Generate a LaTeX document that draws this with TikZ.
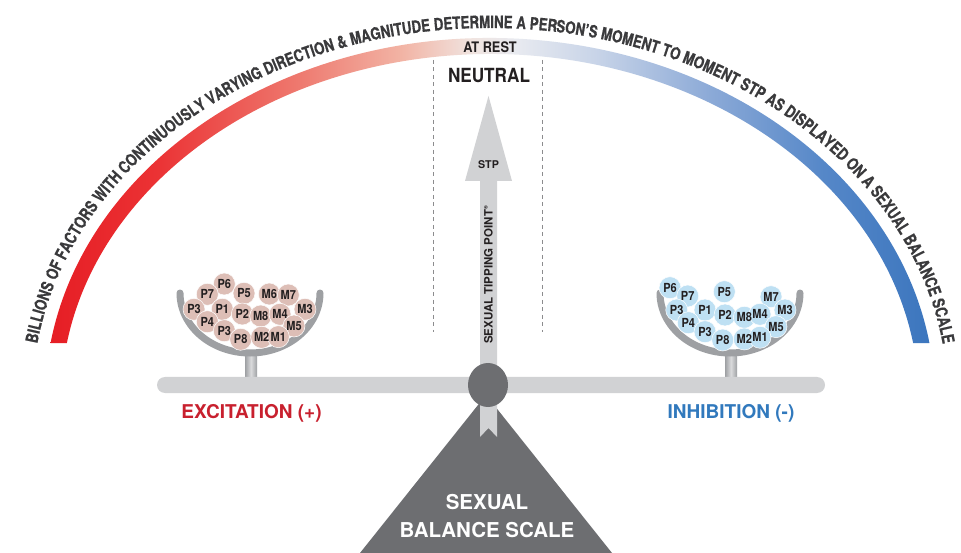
\documentclass[tikz,border=0pt]{standalone}
\usepackage{fontspec}
\usetikzlibrary{decorations.text}
\newfontfamily\hfam{TeX Gyre Heros}
\newfontfamily\hnar{TeX Gyre Heros}[FakeStretch=0.88]
\newfontfamily\hcnd{TeX Gyre Heros}[FakeStretch=0.78,FakeBold=0.6]
\definecolor{arcA}{RGB}{230,30,37}
\definecolor{arcB}{RGB}{235,50,52}
\definecolor{arcC}{RGB}{238,120,110}
\definecolor{arcD}{RGB}{242,180,165}
\definecolor{arcE}{RGB}{240,228,224}
\definecolor{arcF}{RGB}{232,234,240}
\definecolor{arcG}{RGB}{200,212,232}
\definecolor{arcH}{RGB}{140,170,215}
\definecolor{arcI}{RGB}{85,135,200}
\definecolor{arcJ}{RGB}{60,118,190}
\definecolor{arctxt}{RGB}{58,58,60}
\definecolor{bargray}{RGB}{209,210,212}
\definecolor{darkgray}{RGB}{109,110,113}
\definecolor{bowlgray}{RGB}{158,160,163}
\definecolor{pinkball}{RGB}{221,190,182}
\definecolor{blueball}{RGB}{190,224,243}
\definecolor{exred}{RGB}{200,32,46}
\definecolor{inblue}{RGB}{49,121,189}
\definecolor{dashgray}{RGB}{140,140,142}
\definecolor{balltxt}{RGB}{35,31,32}
\pgfdeclarehorizontalshading{arcshade}{100bp}{color(0bp)=(arcA); color(25bp)=(arcA); color(31bp)=(arcB); color(39bp)=(arcC); color(45bp)=(arcD); color(49bp)=(arcE); color(51.5bp)=(arcF); color(56bp)=(arcG); color(62.5bp)=(arcH); color(69bp)=(arcI); color(75bp)=(arcJ); color(100bp)=(arcJ)}
\newcommand\arcfont{\hcnd\bfseries\fontsize{17}{17}\selectfont\color{arctxt}}
\begin{document}
\begin{tikzpicture}[x=1pt,y=1pt,
  ballL/.style={circle, fill=pinkball, draw=white, line width=0.5pt, minimum size=22pt, inner sep=0pt},
  ballR/.style={ballL, fill=blueball},
  balltext/.style={inner sep=0pt, text=balltxt, font=\hnar\bfseries\fontsize{12.5}{12.5}\selectfont},
  bowl/.style={draw=bowlgray, line width=7pt, line cap=round},
  stem/.style={left color=bowlgray, right color=bowlgray, middle color=bargray!80, draw=none},
  sidelabel/.style={font=\hfam\bfseries\fontsize{19}{19}\selectfont},
  dashline/.style={draw=dashgray, line width=0.8pt, dash pattern=on 4pt off 3.5pt}]
\useasboundingbox (0,0) rectangle (961,552);
\fill[white] (0,0) rectangle (961,552);

% gradient arc band
\begin{scope}[shift={(490,152)}]
\shade[shading=arcshade] (170.94:445pt and 362pt) arc[start angle=170.94, end angle=9.06, x radius=445pt, y radius=362pt]
  -- (9.48:429pt and 346pt) arc[start angle=9.48, end angle=170.52, x radius=429pt, y radius=346pt] -- cycle;
\path[decorate, decoration={text along path, text align=center,
  text={|\arcfont|BILLIONS OF FACTORS WITH CONTINUOUSLY VARYING DIRECTION {\&} MAGNITUDE DETERMINE A PERSON’S MOMENT TO MOMENT STP AS DISPLAYED ON A SEXUAL BALANCE SCALE}}]
  (171.5:458pt and 372pt) arc[start angle=171.5, end angle=8.5, x radius=458pt, y radius=372pt];
\end{scope}
\node[font=\hnar\bfseries\fontsize{14.5}{14.5}\selectfont, text=balltxt] (atrest) at (490,505) {AT REST};

% dashed neutral zone
\coordinate (dl1) at (433,492); \coordinate (dl2) at (433,220);
\coordinate (dr1) at (542,492); \coordinate (dr2) at (542,220);
\draw[dashline] (dl1) -- (dl2);
\draw[dashline] (dr1) -- (dr2);
\node[font=\hnar\bfseries\fontsize{19.5}{19.5}\selectfont, text=balltxt] (neutral) at (489,476.5) {NEUTRAL};

% stems and bowls
\shade[stem] (245,172) rectangle (257,198);
\shade[stem] (725,172) rectangle (737,198);
\draw[bowl] (180,259) arc[start angle=180, end angle=360, x radius=70pt, y radius=60pt];
\draw[bowl] (660,259) arc[start angle=180, end angle=360, x radius=70pt, y radius=60pt];

% beam
\fill[bargray, rounded corners=8pt] (157,159) rectangle (825,175);

% base triangle
\fill[darkgray] (486,157) -- (612,-1) -- (360,-1) -- cycle;
\node[font=\hfam\bfseries\fontsize{20.5}{28}\selectfont, text=white, align=center] (base) at (487,36) {SEXUAL\\BALANCE SCALE};

% STP arrow
\fill[bargray] (488.5,456) -- (512,371) -- (497,371) -- (497,115) -- (488.5,124) -- (480,115) -- (480,371) -- (465,371) -- cycle;
\node[font=\hfam\bfseries\fontsize{10.7}{10.7}\selectfont, text=balltxt] (stp) at (488.5,387) {STP};
\node[font=\hfam\bfseries\fontsize{11.5}{11.5}\selectfont, text=balltxt, rotate=90] (stpname) at (488.5,277) {SEXUAL TIPPING POINT\raisebox{0.8ex}{\fontsize{5}{5}\selectfont ®}};
\fill[darkgray] (488,167) ellipse[x radius=20pt, y radius=22pt];
\coordinate (pivot) at (488,167);

% balls: circles first, then labels on top
\foreach \n/\x/\y in {lP6/224.3/268, lP7/207.3/257.7, lP5/244/258.7, lM6/269.3/258, lM7/288.3/257,
  lP3/194/242.7, lP1/222.3/242.7, lP2/242.3/238, lM8/260.7/236, lM4/280/237.7, lM3/305/242.7,
  lP4/207.3/230.3, lM5/294/226, lPiii/224.3/221.3, lP8/240.7/212.7, lM2/261.7/214.7, lM1/278.3/215.3}
  {\node[ballL] (\n) at (\x,\y) {};}
\foreach \n/\x/\y in {rP6/670/264.3, rP7/687.7/256, rP5/724.3/260.3, rM7/771/255.3,
  rP3/676.7/242, rP1/705/242, rP2/725/237, rM8/744.3/234.7, rM4/760/237.7, rM3/785/242,
  rP4/688.3/229.3, rM5/776/225.3, rPiii/705/220.3, rP8/722.7/212, rM2/744.3/213, rM1/760/214.7}
  {\node[ballR] (\n) at (\x,\y) {};}
\foreach \n/\t in {lP6/P6, lP7/P7, lP5/P5, lM6/M6, lM7/M7, lP3/P3, lP1/P1, lP2/P2, lM8/M8, lM4/M4, lM3/M3,
  lP4/P4, lM5/M5, lPiii/P3, lP8/P8, lM2/M2, lM1/M1,
  rP6/P6, rP7/P7, rP5/P5, rM7/M7, rP3/P3, rP1/P1, rP2/P2, rM8/M8, rM4/M4, rM3/M3,
  rP4/P4, rM5/M5, rPiii/P3, rP8/P8, rM2/M2, rM1/M1}
  {\node[balltext] (\n-t) at (\n) {\t};}

% side labels
\node[sidelabel, text=exred] (excite) at (251.5,139) {EXCITATION (+)};
\node[sidelabel, text=inblue] (inhib) at (731,139) {INHIBITION (-)};
\end{tikzpicture}
\end{document}
